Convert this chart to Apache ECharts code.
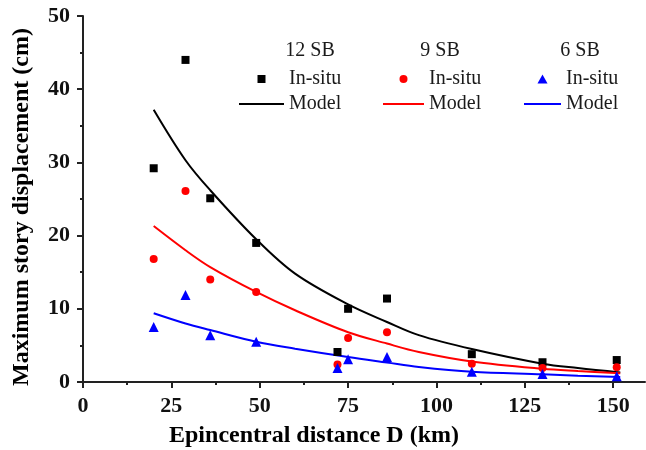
<!DOCTYPE html>
<html>
<head>
<meta charset="utf-8">
<script src="https://cdn.jsdelivr.net/npm/echarts@6/dist/echarts.min.js"></script>
<style>html,body{margin:0;padding:0;background:#fff}#c{width:646px;height:450px}</style>
</head>
<body>
<div id="c"></div>
<script>
// ---- data ----
const xTicks = [0, 25, 50, 75, 100, 125, 150];
const xMinorTicks = [12.5, 37.5, 62.5, 87.5, 112.5, 137.5];
const groups = ['12 SB', '9 SB', '6 SB'];

const insituX = [20, 29, 36, 49, 72, 75, 86, 110, 130, 151];
const insitu12 = [29.2, 44.0, 25.1, 19.0, 4.1, 10.0, 11.4, 3.8, 2.7, 3.0];
const insitu9  = [16.8, 26.1, 14.0, 12.3, 2.4, 6.0, 6.8, 2.5, 1.9, 2.0];
const insitu6  = [7.5, 11.9, 6.4, 5.5, 1.9, 3.1, 3.4, 1.4, 1.1, 0.8];

const modelX  = [20, 29, 36, 49, 60, 75, 86, 95, 110, 130, 140, 152];
const model12 = [37.2, 30.3, 26.2, 19.5, 14.8, 10.6, 8.2, 6.4, 4.5, 2.5, 1.9, 1.3];
const model9  = [21.3, 18.0, 15.7, 12.3, 9.8, 6.8, 5.25, 4.1, 2.8, 1.8, 1.5, 1.2];
const model6  = [9.4, 8.0, 7.1, 5.5, 4.55, 3.4, 2.65, 2.05, 1.4, 1.05, 0.85, 0.7];

// ---- build ----
const pair = (xs, ys) => xs.map((x, i) => [x, ys[i]]);
const colors = ['#000000', '#ff0000', '#0000ff'];
const symbols = ['rect', 'circle', 'triangle'];
const legendIcons = ['path://M0,0 H10 V10 H0 Z', 'circle', 'path://M5,0 L10,9 L0,9 Z'];
const symSizes = [8, 8, 10];
const insitu = [insitu12, insitu9, insitu6];
const model = [model12, model9, model6];

const series = [];
groups.forEach((g, i) => {
  series.push({
    name: g + ' Model', type: 'line', xAxisIndex: 0, yAxisIndex: 0,
    data: pair(modelX, model[i]), smooth: 0.35, symbol: 'none',
    lineStyle: { color: colors[i], width: 2 }, itemStyle: { color: colors[i] },
    z: 2, silent: true, animation: false
  });
  series.push({
    name: g + ' In-situ', type: 'scatter', xAxisIndex: 0, yAxisIndex: 0,
    data: pair(insituX, insitu[i]), symbol: symbols[i], symbolSize: symSizes[i],
    itemStyle: { color: colors[i], opacity: 1 }, z: 3, silent: true, animation: false
  });
});

const serif = '"Liberation Serif", "Times New Roman", serif';
const legendLeft = [238, 382, 523];
const legendW = [45, 41, 37];
const legendSym = [8, 8, 9];
const legends = groups.map((g, i) => ({
  orient: 'vertical', left: legendLeft[i], top: 69,
  itemWidth: legendW[i], itemHeight: legendSym[i], itemGap: 5, padding: 0,
  symbolKeepAspect: true,
  selectedMode: false,
  data: [
    { name: g + ' In-situ', icon: legendIcons[i], itemStyle: { opacity: 1 } },
    { name: g + ' Model', itemStyle: { color: 'rgba(0,0,0,0)', opacity: 0 } }
  ],
  formatter: n => n.replace(/^\d+ SB /, ''),
  textStyle: { fontFamily: serif, fontSize: 20, color: '#1a1a1a', padding: [0, 0, 0, 0] }
}));

const headX = [310, 440, 580];
const graphics = groups.map((g, i) => ({
  type: 'text', x: headX[i], y: 51,
  style: { text: g, font: '20px ' + serif, fill: '#1a1a1a', textAlign: 'center', textVerticalAlign: 'middle' }
}));
graphics.push({
  type: 'text', x: 314, y: 436,
  style: { text: 'Epincentral distance D (km)', font: 'bold 24px ' + serif, fill: '#000', textAlign: 'center', textVerticalAlign: 'middle' }
});
graphics.push({
  type: 'text', x: 22, y: 207, rotation: Math.PI / 2,
  style: { text: 'Maximum story displacement (cm)', font: 'bold 24px ' + serif, fill: '#000', textAlign: 'center', textVerticalAlign: 'middle' }
});

const axisLine = { show: true, lineStyle: { color: '#222', width: 2 } };
const chart = echarts.init(document.getElementById('c'), null, { renderer: 'canvas' });
chart.setOption({
  animation: false,
  backgroundColor: '#fff',
  grid: { left: 83, right: 1, top: 16, bottom: 68, containLabel: false },
  xAxis: [{
    type: 'value', min: 0, max: 159, interval: 25,
    axisLine: axisLine,
    axisTick: { show: true, length: 6, customValues: xTicks, lineStyle: { color: '#222', width: 2 } },
    axisLabel: { customValues: xTicks, margin: 13, fontFamily: serif, fontWeight: 'bold', fontSize: 22, color: '#111' },
    splitLine: { show: false }
  }, {
    type: 'value', min: 0, max: 159, position: 'bottom', gridIndex: 0,
    axisLine: { show: false },
    axisTick: { show: true, length: 3, customValues: xMinorTicks, lineStyle: { color: '#222', width: 2 } },
    axisLabel: { show: false }, splitLine: { show: false }
  }],
  yAxis: {
    type: 'value', min: 0, max: 50, interval: 10,
    axisLine: axisLine,
    axisTick: { show: true, length: 6, lineStyle: { color: '#222', width: 2 } },
    minorTick: { show: true, splitNumber: 2, length: 3, lineStyle: { color: '#222', width: 2 } },
    axisLabel: { margin: 13, fontFamily: serif, fontWeight: 'bold', fontSize: 22, color: '#111' },
    splitLine: { show: false }
  },
  legend: legends,
  graphic: graphics,
  series: series
});
</script>
</body>
</html>
